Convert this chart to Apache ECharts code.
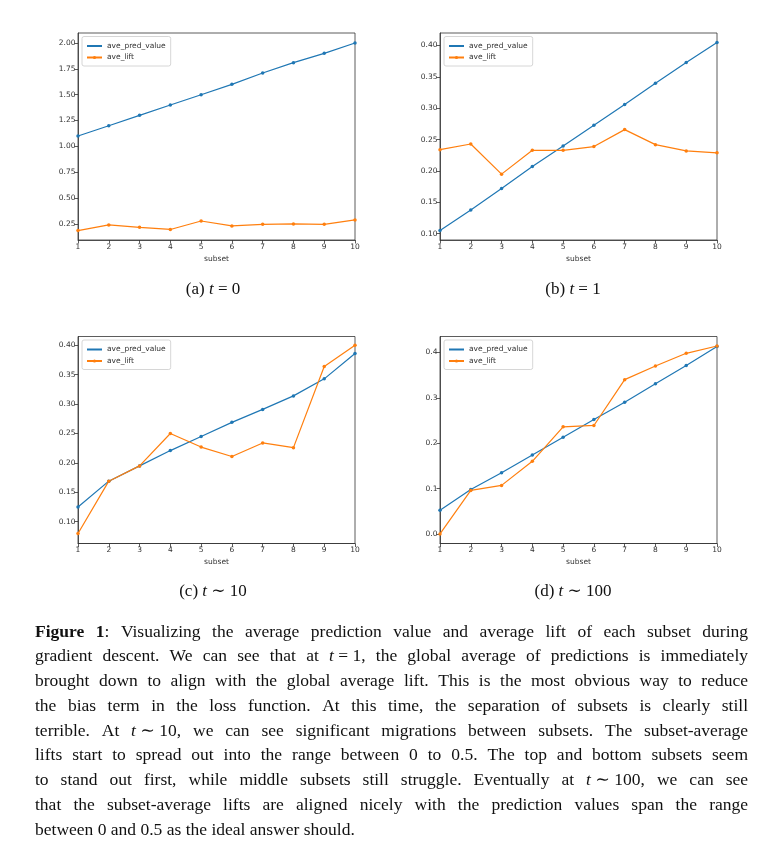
<!DOCTYPE html>
<html><head><meta charset="utf-8">
<script src="https://cdn.jsdelivr.net/npm/echarts@6/dist/echarts.min.js"></script>
<style>html,body{margin:0;padding:0;background:#fff}#c{width:781px;height:858px}</style>
</head><body><div id="c"></div><script>
// ---- data ----
const subsets = [1,2,3,4,5,6,7,8,9,10];
const predT0 = [1.10,1.20,1.30,1.40,1.50,1.60,1.71,1.81,1.90,2.00];
const liftT0 = [0.185,0.240,0.217,0.196,0.278,0.230,0.246,0.250,0.246,0.288];
const predT1 = [0.105,0.138,0.172,0.207,0.240,0.273,0.306,0.340,0.373,0.405];
const liftT1 = [0.234,0.243,0.195,0.233,0.233,0.239,0.266,0.242,0.232,0.229];
const predT10 = [0.125,0.169,0.195,0.221,0.245,0.269,0.291,0.314,0.343,0.386];
const liftT10 = [0.080,0.169,0.195,0.250,0.227,0.211,0.234,0.226,0.364,0.400];
const predT100 = [0.052,0.098,0.135,0.174,0.213,0.252,0.290,0.331,0.371,0.413];
const liftT100 = [0.000,0.096,0.107,0.160,0.236,0.239,0.340,0.370,0.398,0.414];
const yTicksA = [0.25,0.50,0.75,1.00,1.25,1.50,1.75,2.00];
const yTicksB = [0.10,0.15,0.20,0.25,0.30,0.35,0.40];
const yTicksC = [0.10,0.15,0.20,0.25,0.30,0.35,0.40];
const yTicksD = [0.0,0.1,0.2,0.3,0.4];
const seriesNames = ['ave_pred_value','ave_lift'];
const panelLabels = [['(a) ','t',' = 0'],['(b) ','t',' = 1'],['(c) ','t',' \u223c 10'],['(d) ','t',' \u223c 100']];
const captionLines = [
 "**Figure** **1**: Visualizing the average prediction value and average lift of each subset during",
 "gradient descent. We can see that at _t_\u00a0=\u00a01, the global average of predictions is immediately",
 "brought down to align with the global average lift. This is the most obvious way to reduce",
 "the bias term in the loss function. At this time, the separation of subsets is clearly still",
 "terrible. At _t_\u00a0\u223c\u00a010, we can see significant migrations between subsets. The subset-average",
 "lifts start to spread out into the range between 0 to 0.5. The top and bottom subsets seem",
 "to stand out first, while middle subsets still struggle. Eventually at _t_\u00a0\u223c\u00a0100, we can see",
 "that the subset-average lifts are aligned nicely with the prediction values span the range",
 "between 0 and 0.5 as the ideal answer should."
];

// ---- layout / style ----
const BLUE = '#1f77b4', ORANGE = '#ff7f0e', AX = '#333';
const SANS = '"DejaVu Sans", sans-serif';
const SERIF = '"Liberation Serif", "DejaVu Serif", serif';
const panels = [
 {pred: predT0, lift: liftT0, yMin: 0.094, yMax: 2.097, ticks: yTicksA, dec: 2, left: 78, top: 33, lx: 213, ly: 290},
 {pred: predT1, lift: liftT1, yMin: 0.090, yMax: 0.420, ticks: yTicksB, dec: 2, left: 440, top: 33, lx: 573, ly: 290},
 {pred: predT10, lift: liftT10, yMin: 0.063, yMax: 0.415, ticks: yTicksC, dec: 2, left: 78, top: 336.5, lx: 213, ly: 592},
 {pred: predT100, lift: liftT100, yMin: -0.021, yMax: 0.435, ticks: yTicksD, dec: 1, left: 440, top: 336.5, lx: 573, ly: 592}
];
const GW = 277, GH = 207;

const grid = [], xAxis = [], yAxis = [], series = [], legend = [], graphic = [];
panels.forEach((p, i) => {
  grid.push({left: p.left, top: p.top, width: GW, height: GH, show: true, borderColor: AX, borderWidth: 0.8, backgroundColor: 'transparent'});
  xAxis.push({type: 'value', gridIndex: i, min: 1, max: 10, interval: 1,
    axisLine: {show: true, onZero: false, lineStyle: {color: AX, width: 0.8}},
    axisTick: {show: true, length: 3.5, lineStyle: {color: AX, width: 0.8}},
    axisLabel: {fontSize: 7.5, color: AX, margin: 3, fontFamily: SANS, showMinLabel: true, showMaxLabel: true},
    splitLine: {show: false},
    name: 'subset', nameLocation: 'middle', nameGap: 15,
    nameTextStyle: {fontSize: 7.5, color: AX, fontFamily: SANS}});
  yAxis.push({type: 'value', gridIndex: i, min: p.yMin, max: p.yMax,
    axisLine: {show: true, onZero: false, lineStyle: {color: AX, width: 0.8}},
    axisTick: {show: true, length: 3.5, customValues: p.ticks, lineStyle: {color: AX, width: 0.8}},
    axisLabel: {customValues: p.ticks, fontSize: 7.5, color: AX, margin: 2.5, fontFamily: SANS,
      formatter: v => Number(v).toFixed(p.dec)},
    splitLine: {show: false}});
  series.push({name: seriesNames[0], type: 'line', xAxisIndex: i, yAxisIndex: i,
    data: subsets.map((s, k) => [s, p.pred[k]]),
    symbol: 'circle', symbolSize: 3.5, showSymbol: true,
    lineStyle: {width: 1.2, color: BLUE}, itemStyle: {color: BLUE}, animation: false});
  series.push({name: seriesNames[1], type: 'line', xAxisIndex: i, yAxisIndex: i,
    data: subsets.map((s, k) => [s, p.lift[k]]),
    symbol: 'circle', symbolSize: 3.5, showSymbol: true,
    lineStyle: {width: 1.2, color: ORANGE}, itemStyle: {color: ORANGE}, animation: false});
  legend.push({left: p.left + 4, top: p.top + 3.5, orient: 'vertical', selectedMode: false,
    data: [{name: seriesNames[0], itemStyle: {opacity: 0}}, {name: seriesNames[1]}],
    itemWidth: 15, itemHeight: 4, itemGap: 2.5, padding: [5, 5, 4, 4],
    backgroundColor: '#fff', borderColor: '#ccc', borderWidth: 0.8, borderRadius: 2,
    textStyle: {fontSize: 7.5, color: AX, fontFamily: SANS, lineHeight: 9}});
  const L = panelLabels[i];
  graphic.push({type: 'text', x: p.lx, y: p.ly, silent: true,
    style: {text: L[0] + '{i|' + L[1] + '}' + L[2], fontSize: 17, fontFamily: SERIF, fill: '#111',
      align: 'center', verticalAlign: 'middle',
      rich: {i: {fontStyle: 'italic', fontSize: 17, fontFamily: SERIF, fill: '#111'}}}});
});

// ---- justified caption paragraph ----
const cv = document.createElement('canvas').getContext('2d');
function parseWord(w) {
  return w.split(/(\*\*.+?\*\*|_.+?_)/).filter(s => s.length).map(s => {
    if (s.startsWith('**')) return {t: s.slice(2, -2), w: 'bold', s: 'normal'};
    if (s.startsWith('_')) return {t: s.slice(1, -1), w: 'normal', s: 'italic'};
    return {t: s, w: 'normal', s: 'normal'};
  });
}
function measure(seg, fs) { cv.font = `${seg.s} ${seg.w} ${fs}px ${SERIF}`; return cv.measureText(seg.t).width; }
const TX = 35, TW = 713, TY0 = 632, TLH = 24.75;
let fs = 17.5;
const parsed = captionLines.map(l => l.split(' ').map(parseWord));
function natural(line, f) {
  const sp = measure({t: ' ', w: 'normal', s: 'normal'}, f);
  return line.reduce((a, w) => a + w.reduce((b, s) => b + measure(s, f), 0), 0) + sp * (line.length - 1);
}
const maxNat = Math.max(...parsed.slice(0, -1).map(l => natural(l, fs)));
if (maxNat > TW - 6) fs = fs * (TW - 6) / maxNat;
const spW = measure({t: ' ', w: 'normal', s: 'normal'}, fs);
parsed.forEach((line, j) => {
  const widths = line.map(w => w.map(s => measure(s, fs)));
  const total = widths.reduce((a, ws) => a + ws.reduce((b, x) => b + x, 0), 0);
  const last = j === parsed.length - 1;
  const gap = last ? spW : (TW - total) / (line.length - 1);
  let x = TX;
  const y = TY0 + j * TLH;
  line.forEach((w, k) => {
    w.forEach((s, m) => {
      graphic.push({type: 'text', x: x, y: y, silent: true,
        style: {text: s.t, fontSize: fs, fontFamily: SERIF, fontWeight: s.w, fontStyle: s.s,
          fill: '#111', align: 'left', verticalAlign: 'middle'}});
      x += widths[k][m];
    });
    x += gap;
  });
});

const chart = echarts.init(document.getElementById('c'), null, {renderer: 'canvas'});
chart.setOption({backgroundColor: '#fff', animation: false, grid, xAxis, yAxis, series, legend, graphic});
</script></body></html>
